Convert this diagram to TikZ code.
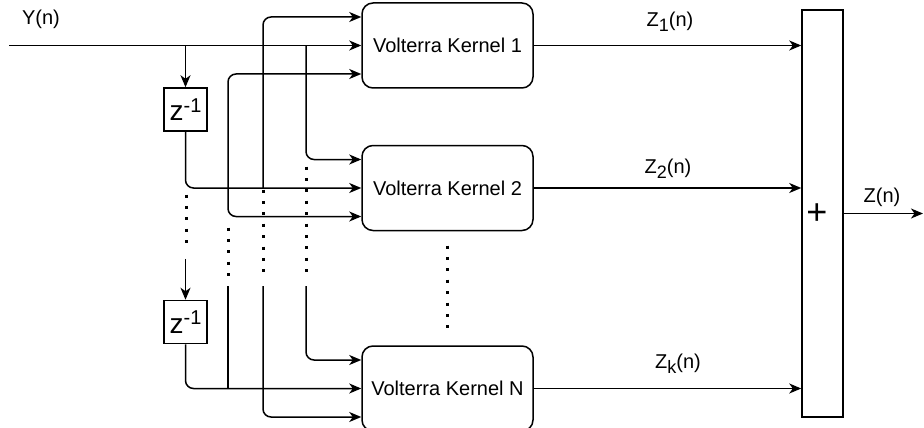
\documentclass[tikz,border=0pt]{standalone}
\usepackage{fontspec}
\setmainfont{Liberation Sans}
\usetikzlibrary{arrows.meta,positioning}

\newcommand{\zsub}[1]{Z\raisebox{-5pt}{\fontsize{18}{18}\selectfont #1}(n)}
\newcommand{\zinv}{{\fontsize{28}{28}\selectfont z}\raisebox{8.5pt}{-1}}

\tikzset{
  >={Stealth[length=12pt,width=10pt,inset=3.5pt]},
  kernel/.style={draw, line width=1.5pt, rounded corners=11pt, minimum width=171pt, minimum height=85pt, inner sep=0pt},
  delay/.style={draw, line width=1.5pt, minimum size=43pt, inner sep=0pt},
  wire/.style={line width=1.5pt, rounded corners=8pt},
  sig/.style={wire, ->},
  dots/.style={line width=3pt, dash pattern=on 3pt off 8.4pt},
}

\begin{document}
\begin{tikzpicture}[x=1pt, y=-1pt, font=\fontsize{20}{24}\selectfont]

    \useasboundingbox (0,0) rectangle (924,428);

    % kernels, delays, adder
    \node[kernel] (k1) at (447.5,45.5) {Volterra Kernel 1};
    \node[kernel, below=56pt of k1] (k2) {Volterra Kernel 2};
    \node[kernel, below=114pt of k2] (kN) {Volterra Kernel N};
    \node[delay] (d1) at (185.5,109.5) {\zinv};
    \node[delay, below=168pt of d1] (d2) {\zinv};
    \node[draw, line width=1.5pt, minimum width=41pt, minimum height=407pt, inner sep=0pt] (sum) at (822.5,213.5) {};
    \node[font=\fontsize{36}{36}\selectfont, inner sep=0pt] (plus) at ([xshift=-5.5pt,yshift=-1pt]sum.center) {+};

    % input points of every kernel
    \foreach \k in {k1,k2,kN} {
      \coordinate (\k-top) at ([yshift=28.5pt]\k.west);
      \coordinate (\k-mid) at (\k.west);
      \coordinate (\k-bot) at ([yshift=-28.5pt]\k.west);
    }
    \coordinate (yin) at (9,45.5);
    \coordinate (colA) at (228,0);
    \coordinate (colB) at (263,0);
    \coordinate (colC) at (306,0);
    \coordinate (low) at (0,286);
    \coordinate (zout) at (923,213.5);

    % upper taps
    \draw[sig] (yin) -- (k1-mid);
    \draw[sig] (d1.north |- yin) -- (d1.north);
    \draw[sig] (colC |- yin) |- (k2-top);
    \draw[sig] (d1.south) |- (k2-mid);
    \draw[sig] (colB |- k2-mid) |- (k1-top);
    \draw[wire, <->] (k1-bot) -| (colA |- k2-bot) -- (k2-bot);

    % lower taps
    \draw[sig] ([yshift=41pt]d2.north) -- (d2.north);
    \draw[sig] (d2.south) |- (kN-mid);
    \draw[wire] (colA |- low) -- (colA |- kN-mid);
    \draw[sig] (colB |- low) |- (kN-bot);
    \draw[sig] (colC |- low) |- (kN-top);

    % dotted gaps
    \draw[dots] (186,194.5) -- (186,243.5);
    \draw[dots] (228,227.5) -- (228,277);
    \draw[dots] (263,189.5) -- (263,272);
    \draw[dots] (306,166.5) -- (306,272);
    \draw[dots] (447,245.5) -- (447,328);

    % outputs
    \draw[sig] (k1.east) -- (sum.west |- k1.east);
    \draw[sig] (k2.east) -- (sum.west |- k2.east);
    \draw[sig] (kN.east) -- (sum.west |- kN.east);
    \draw[sig] (sum.east) -- (zout);

    \node (ylab) at (41,19) {Y(n)};
    \node (z1lab) at (670,22) {\zsub{1}};
    \node (z2lab) at (668,169) {\zsub{2}};
    \node (zklab) at (678,364) {\zsub{k}};
    \node (zlab) at (882,197) {Z(n)};
  \end{tikzpicture}
\end{document}
